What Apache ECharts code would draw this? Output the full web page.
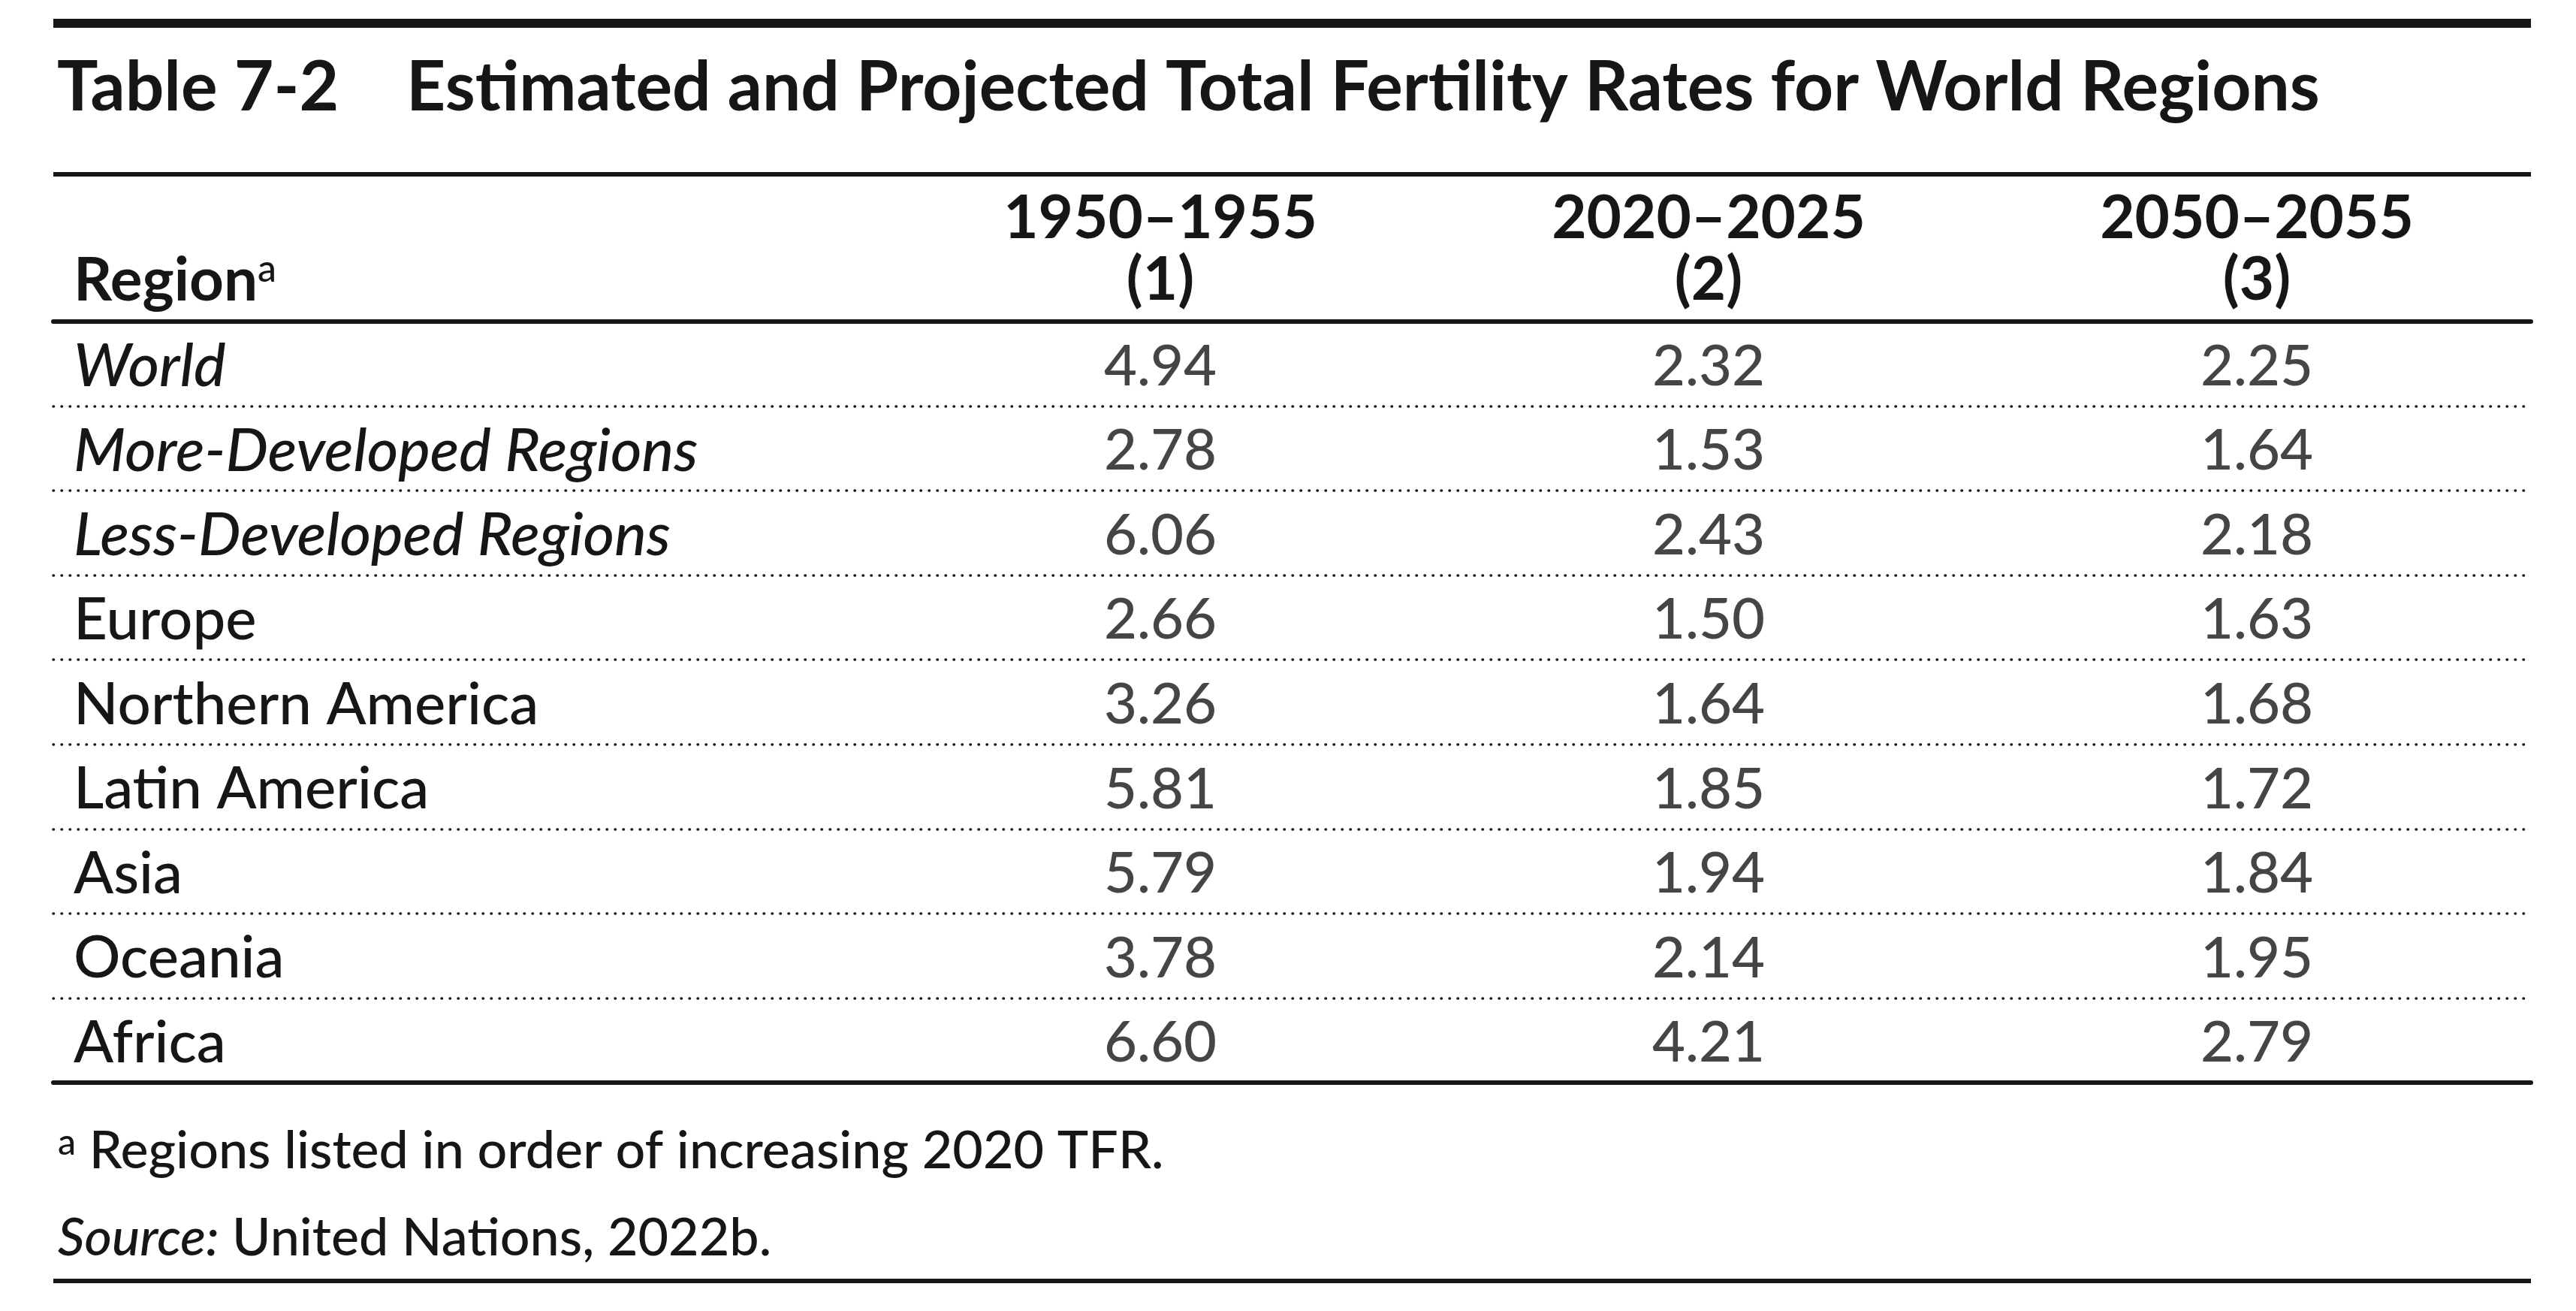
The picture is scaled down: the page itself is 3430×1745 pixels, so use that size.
<!DOCTYPE html>
<html>
<head>
<meta charset="utf-8">
<script src="https://cdn.jsdelivr.net/npm/echarts@6/dist/echarts.min.js"></script>
<style>
  html, body { margin: 0; padding: 0; background: #fff; }
  #main { width: 3430px; height: 1745px; }
</style>
</head>
<body>
<div id="main"></div>
<script>
var regions = ['World', 'More-Developed Regions', 'Less-Developed Regions', 'Europe',
  'Northern America', 'Latin America', 'Asia', 'Oceania', 'Africa'];
var aggregates = ['World', 'More-Developed Regions', 'Less-Developed Regions'];
var periods = ['1950\u20131955', '2020\u20132025', '2050\u20132055'];
var colNums = ['(1)', '(2)', '(3)'];
var tfr1950 = [4.94, 2.78, 6.06, 2.66, 3.26, 5.81, 5.79, 3.78, 6.60];
var tfr2020 = [2.32, 1.53, 2.43, 1.50, 1.64, 1.85, 1.94, 2.14, 4.21];
var tfr2050 = [2.25, 1.64, 2.18, 1.63, 1.68, 1.72, 1.84, 1.95, 2.79];

var ink = '#161615';
var font = 'Lato';

var cells = [];
[tfr1950, tfr2020, tfr2050].forEach(function (col, c) {
  col.forEach(function (v, r) {
    cells.push([c, r, v]);
  });
});

var chart = echarts.init(document.getElementById('main'));

var option = {
  animation: false,
  backgroundColor: '#fff',
  title: [
    {
      text: 'Table 7-2',
      left: 71, top: 67,
      textStyle: { fontFamily: font, fontWeight: 'bold', fontSize: 91, lineHeight: 91, color: ink }
    },
    {
      text: 'Estimated and Projected Total Fertility Rates for World Regions',
      left: 536, top: 67,
      textStyle: { fontFamily: font, fontWeight: 'bold', fontSize: 91, lineHeight: 91, color: ink }
    },
    {
      text: '{sup|a}{t| Regions listed in order of increasing 2020 TFR.}',
      left: 72, top: 1493,
      textStyle: {
        fontWeight: 'normal',
        rich: {
          sup: { fontFamily: font, fontWeight: 500, fontSize: 48, lineHeight: 48, verticalAlign: 'top', color: ink },
          t: { fontFamily: font, fontWeight: 500, fontSize: 70, lineHeight: 69, color: ink }
        }
      }
    },
    {
      text: '{i|Source:}{t| United Nations, 2022b.}',
      left: 72, top: 1608,
      textStyle: {
        fontWeight: 'normal',
        rich: {
          i: { fontFamily: font, fontWeight: 500, fontStyle: 'italic', fontSize: 70, lineHeight: 70, color: ink },
          t: { fontFamily: font, fontWeight: 500, fontSize: 70, lineHeight: 70, color: ink }
        }
      }
    }
  ],
  graphic: [
    { type: 'line', shape: { x1: 71, y1: 31, x2: 3370, y2: 31 }, style: { stroke: ink, lineWidth: 12 } },
    { type: 'line', shape: { x1: 71, y1: 232, x2: 3370, y2: 232 }, style: { stroke: ink, lineWidth: 6 } },
    { type: 'line', shape: { x1: 71, y1: 1705, x2: 3370, y2: 1705 }, style: { stroke: ink, lineWidth: 6 } }
  ],
  grid: [
    { left: 71, right: 60, top: 428, bottom: 304, outerBoundsMode: 'none' },
    { left: 1180, right: 60, top: 428, bottom: 304, outerBoundsMode: 'none' }
  ],
  xAxis: [
    {
      gridIndex: 0, type: 'value', position: 'top', min: 0, max: 1,
      axisLine: { show: true, onZero: false, lineStyle: { color: ink, width: 6 } },
      axisTick: { show: false }, axisLabel: { show: false }, splitLine: { show: false }
    },
    {
      gridIndex: 0, type: 'value', position: 'bottom', min: 0, max: 1,
      axisLine: { show: true, onZero: false, lineStyle: { color: ink, width: 6 } },
      axisTick: { show: false }, axisLabel: { show: false }, splitLine: { show: false }
    },
    {
      gridIndex: 1, type: 'category', position: 'top', data: periods,
      axisLine: { show: false }, axisTick: { show: false }, splitLine: { show: false },
      axisLabel: {
        interval: 0, margin: 14,
        formatter: function (v, i) { return v + '\n' + colNums[i]; },
        fontFamily: font, fontWeight: 'bold', fontSize: 80, lineHeight: 82, color: ink, align: 'center'
      }
    }
  ],
  yAxis: [
    {
      gridIndex: 0, type: 'category', data: regions, inverse: true,
      name: '{b|Region}{sup|a}', nameLocation: 'start', nameGap: 14,
      nameTextStyle: {
        align: 'left', verticalAlign: 'bottom', padding: [0, 0, 0, 27],
        rich: {
          b: { fontFamily: font, fontWeight: 'bold', fontSize: 80, lineHeight: 80, color: ink },
          sup: { fontFamily: font, fontWeight: 500, fontSize: 50, lineHeight: 50, verticalAlign: 'top', color: ink }
        }
      },
      axisLine: { show: false }, axisTick: { show: false },
      axisLabel: {
        inside: true, margin: 27, interval: 0, padding: [8, 0, 0, 0],
        formatter: function (v) {
          return aggregates.indexOf(v) >= 0 ? '{i|' + v + '}' : '{n|' + v + '}';
        },
        rich: {
          i: { fontFamily: font, fontWeight: 500, fontStyle: 'italic', fontSize: 80, color: ink },
          n: { fontFamily: font, fontWeight: 500, fontSize: 78, color: ink }
        }
      },
      splitLine: {
        show: true, interval: 0,
        lineStyle: { color: ink, width: 3.5, type: [0.5, 10.5], cap: 'round' }
      }
    },
    {
      gridIndex: 1, type: 'category', data: regions, inverse: true, show: false
    }
  ],
  series: [
    {
      type: 'scatter',
      xAxisIndex: 2, yAxisIndex: 1,
      data: cells,
      symbolSize: 1,
      itemStyle: { color: 'rgba(0,0,0,0)' },
      silent: true,
      label: {
        show: true, position: 'inside', offset: [0, 4],
        formatter: function (p) { return p.value[2].toFixed(2); },
        fontFamily: font, fontWeight: 500, fontSize: 76, color: ink
      }
    }
  ]
};

chart.setOption(option);
</script>
</body>
</html>
